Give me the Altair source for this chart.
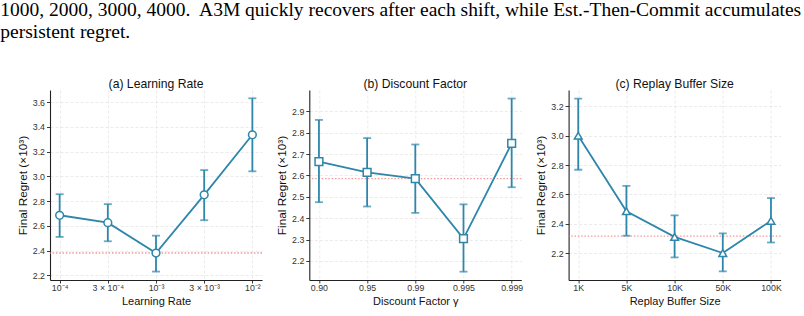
import altair as alt
import pandas as pd

# ---------------- data ----------------
lr_labels = ["10⁻⁴", "3 × 10⁻⁴", "10⁻³", "3 × 10⁻³", "10⁻²"]
lr_mean = [2.685, 2.625, 2.38, 2.85, 3.335]
lr_low = [2.51, 2.475, 2.23, 2.645, 3.04]
lr_high = [2.855, 2.775, 2.52, 3.05, 3.63]
lr_ref = 2.38

gamma_labels = ["0.90", "0.95", "0.99", "0.995", "0.999"]
gamma_mean = [2.665, 2.615, 2.585, 2.305, 2.75]
gamma_low = [2.475, 2.455, 2.425, 2.15, 2.545]
gamma_high = [2.86, 2.775, 2.745, 2.465, 2.96]
gamma_ref = 2.585

buf_labels = ["1K", "5K", "10K", "50K", "100K"]
buf_mean = [3.0, 2.485, 2.31, 2.2, 2.42]
buf_low = [2.768, 2.318, 2.17, 2.075, 2.272]
buf_high = [3.253, 2.658, 2.457, 2.334, 2.575]
buf_ref = 2.315

caption_lines = [
    "1000, 2000, 3000, 4000.\u00a0 A3M quickly recovers after each shift, while Est.-Then-Commit accumulates",
    "persistent regret.",
]

BLUE = "#2E86AB"
RED = "#F08080"
FONT = "Liberation Sans"
W, H = 212, 190


def panel(labels, mean, low, high, ref, title, xtitle, shape, ydomain, yticks):
    df = pd.DataFrame({"x": labels, "m": mean, "lo": low, "hi": high})
    xenc = alt.X("x:N", sort=labels, title=xtitle,
                 scale=alt.Scale(type="point", padding=0.2),
                 axis=alt.Axis(labelAngle=0, grid=True))
    yscale = alt.Scale(domain=ydomain, nice=False, zero=False)
    yaxis = alt.Axis(values=yticks, format=".1f", grid=True, title="Final Regret (×10³)",
                     titleFontSize=11.8)
    base = alt.Chart(df)
    refline = alt.Chart(pd.DataFrame({"r": [ref]})).mark_rule(
        color=RED, strokeDash=[1.5, 1.8], strokeWidth=1.3, opacity=0.8
    ).encode(y=alt.Y("r:Q", scale=yscale, axis=yaxis))
    err = base.mark_rule(color=BLUE, strokeWidth=1.8).encode(
        x=xenc, y=alt.Y("lo:Q", scale=yscale, axis=yaxis), y2="hi:Q")
    cap_lo = base.mark_tick(color=BLUE, thickness=1.8, size=8, orient="horizontal").encode(
        x=xenc, y=alt.Y("lo:Q", scale=yscale, axis=yaxis))
    cap_hi = base.mark_tick(color=BLUE, thickness=1.8, size=8, orient="horizontal").encode(
        x=xenc, y=alt.Y("hi:Q", scale=yscale, axis=yaxis))
    line = base.mark_line(color=BLUE, strokeWidth=1.8).encode(
        x=xenc, y=alt.Y("m:Q", scale=yscale, axis=yaxis))
    pts = base.mark_point(shape=shape, filled=True, fill="white", stroke=BLUE,
                          strokeWidth=1.5, size=60, opacity=1).encode(
        x=xenc, y=alt.Y("m:Q", scale=yscale, axis=yaxis))
    return alt.layer(refline, err, cap_lo, cap_hi, line, pts).properties(
        width=W, height=H,
        title=alt.TitleParams(title, fontSize=12.2, font=FONT, fontWeight="normal",
                              color="#111", offset=0)
    )


pa = panel(lr_labels, lr_mean, lr_low, lr_high, lr_ref, "(a) Learning Rate", "Learning Rate",
           "circle", [2.162, 3.697], [2.2, 2.4, 2.6, 2.8, 3.0, 3.2, 3.4, 3.6])
pb = panel(gamma_labels, gamma_mean, gamma_low, gamma_high, gamma_ref, "(b) Discount Factor",
           "Discount Factor γ", "square", [2.111, 3.0],
           [2.2, 2.3, 2.4, 2.5, 2.6, 2.7, 2.8, 2.9])
pc = panel(buf_labels, buf_mean, buf_low, buf_high, buf_ref, "(c) Replay Buffer Size",
           "Replay Buffer Size", "triangle-up", [2.016, 3.312],
           [2.2, 2.4, 2.6, 2.8, 3.0, 3.2])

chart = alt.hconcat(pa, pb, pc, spacing=47.3, bounds="flush").properties(
    title=alt.TitleParams(caption_lines, anchor="start", font="Liberation Serif",
                          fontSize=19.5, fontWeight="normal", color="black",
                          lineHeight=22, dx=-17, offset=35),
    padding={"left": 0, "top": 0, "right": 0, "bottom": 0}
).configure_view(stroke=None).configure_axis(
    labelFont=FONT, titleFont=FONT, labelFontSize=8.8, titleFontSize=11,
    labelColor="#333", titleColor="#111", titleFontWeight="normal",
    domainColor="#222", domainWidth=1.1, tickColor="#222", tickSize=3.5, tickWidth=0.9,
    gridColor="#e3e3e3", gridDash=[3, 2], gridWidth=0.7, labelPadding=2, titlePadding=4
).configure_axisX(titlePadding=4, labelPadding=0, tickSize=3)

chart.save("out.html", embed_options={"renderer": "svg", "actions": False})
